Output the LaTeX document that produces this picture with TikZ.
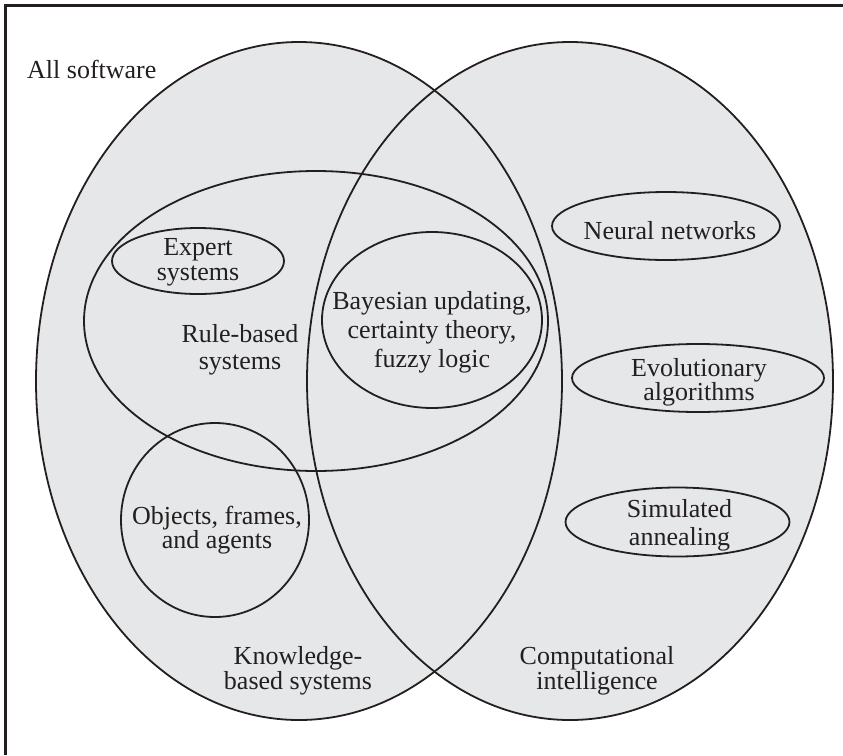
\documentclass[tikz,border=0pt]{standalone}
\usepackage{fontspec}
\setmainfont{Liberation Serif}
\usetikzlibrary{shapes.geometric,backgrounds}
\definecolor{setfill}{HTML}{E6E7E8}
\definecolor{ink}{HTML}{231F20}
\begin{document}
\begin{tikzpicture}[x=1pt,y=-1pt,
  setline/.style={draw=ink, line width=1.8pt},
  oval/.style={setline, ellipse, inner sep=0pt},
  lbl/.style={font=\fontsize{26}{#1}\selectfont, align=center, text=ink, inner sep=0pt},
  lbl/.default=26,
]
\useasboundingbox (0,0) rectangle (843,755);

% frame
\draw[ink, line width=3pt] (5.5,755) -- (5.5,5.5) -- (843,5.5);
\node[lbl, anchor=base west] (all) at (27,78) {All software};

% the two main sets
\node[oval, minimum width=526pt, minimum height=678pt] (kbs) at (299,381) {};
\node[oval, minimum width=526pt, minimum height=678pt] (ci) at (570,381) {};
\begin{scope}[on background layer]
  \fill[setfill] (kbs.center) ellipse [x radius=263, y radius=339];
  \fill[setfill] (ci.center) ellipse [x radius=263, y radius=339];
\end{scope}
\node[lbl=25] (kbslbl) at (298,671) {Knowledge-\\based systems};
\node[lbl=25] (cilbl) at (597,671) {Computational\\intelligence};

% knowledge-based side
\node[oval, minimum width=464pt, minimum height=300pt] (rule) at (316,321) {};
\node[lbl=27] (rulelbl) at (240,350) {Rule-based\\systems};
\node[oval, minimum width=172pt, minimum height=66pt] (expert) at (198,261) {};
\node[lbl=25] (expertlbl) at (198,262) {Expert\\systems};
\node[oval, minimum width=188pt, minimum height=194pt] (obj) at (215,520) {};
\node[lbl=23] (objlbl) at (217,530) {Objects, frames,\\and agents};
\node[oval, minimum width=220pt, minimum height=176pt] (bayes) at (432,320) {};
\node[lbl=29] (bayeslbl) at (432,332) {Bayesian updating,\\certainty theory,\\fuzzy logic};

% computational intelligence side
\node[oval, minimum width=228pt, minimum height=68pt] (neural) at (666,226) {};
\node[lbl] (neurallbl) at (670,231) {Neural networks};
\node[oval, minimum width=252pt, minimum height=68pt] (evo) at (698,378) {};
\node[lbl=24] (evolbl) at (699,382) {Evolutionary\\algorithms};
\node[oval, minimum width=224pt, minimum height=69pt] (sa) at (677.5,522) {};
\node[lbl=28] (salbl) at (679.5,525) {Simulated\\annealing};
\end{tikzpicture}
\end{document}
